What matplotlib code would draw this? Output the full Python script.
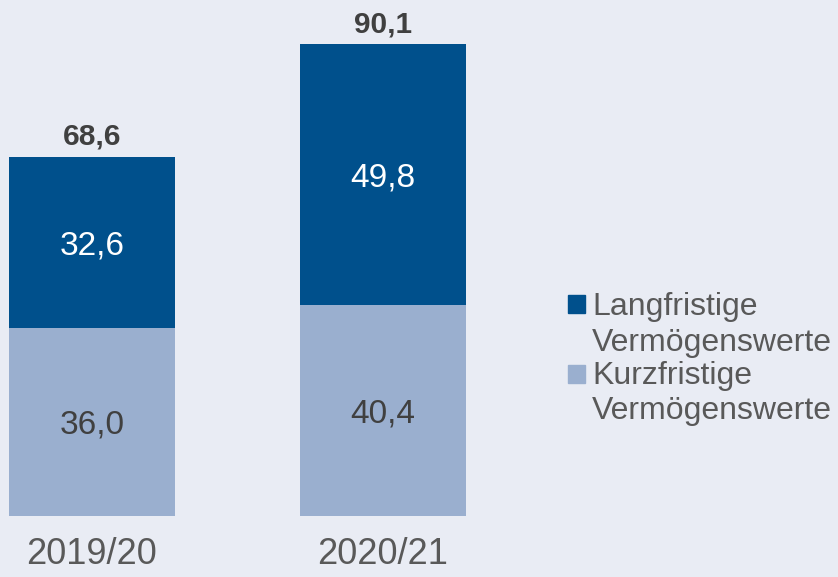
import matplotlib.pyplot as plt
from matplotlib.patches import Rectangle

# data
years = ['2019/20', '2020/21']
kurz = [36.0, 40.4]
lang = [32.6, 49.8]
totals = [68.6, 90.1]
kurz_lbl = ['36,0', '40,4']
lang_lbl = ['32,6', '49,8']
total_lbl = ['68,6', '90,1']

bg = '#E9ECF4'
dark = '#00508C'
light = '#9AAFCF'
txt = '#404040'
leg_txt = '#595959'

plt.rcParams['font.family'] = ['Liberation Sans', 'DejaVu Sans']

fig = plt.figure(figsize=(8.38, 5.77), dpi=100, facecolor=bg)
ax = fig.add_axes([0, 61/577, 475/838, 516/577])
ax.set_facecolor(bg)

x = range(len(years))
ax.bar(x, kurz, width=0.57, color=light)
ax.bar(x, lang, width=0.57, bottom=kurz, color=dark)

for i in x:
    ax.text(i, kurz[i]/2, kurz_lbl[i], ha='center', va='center_baseline', fontsize=24, color=txt)
    ax.text(i, kurz[i] + lang[i]/2, lang_lbl[i], ha='center', va='center_baseline', fontsize=24, color='white')
    ax.annotate(total_lbl[i], (i, totals[i]), xytext=(0, 5), textcoords='offset points',
                ha='center', va='bottom', fontsize=21.5, fontweight='bold', color=txt)

ax.set_xlim(-0.316, 1.316)
ax.set_ylim(0, 98.7)
ax.set_xticks(list(x))
ax.set_xticklabels(years, fontsize=26, color=leg_txt)
ax.tick_params(axis='x', length=0, pad=15)
ax.set_yticks([])
for s in ax.spines.values():
    s.set_visible(False)

# legend drawn by hand
def fy(y):
    return 1 - y/577

fig.add_artist(Rectangle((568/838, fy(313)), 17/838, 18/577, transform=fig.transFigure, color=dark))
fig.add_artist(Rectangle((568/838, fy(383)), 17/838, 18/577, transform=fig.transFigure, color=light))
for txt_line, yb in [('Langfristige', 315), ('Vermögenswerte', 351),
                     ('Kurzfristige', 384), ('Vermögenswerte', 419)]:
    fig.text(592/838, fy(yb), txt_line, fontsize=23, color=leg_txt, va='baseline', ha='left')

fig.savefig('out.png', dpi=100, facecolor=bg)
